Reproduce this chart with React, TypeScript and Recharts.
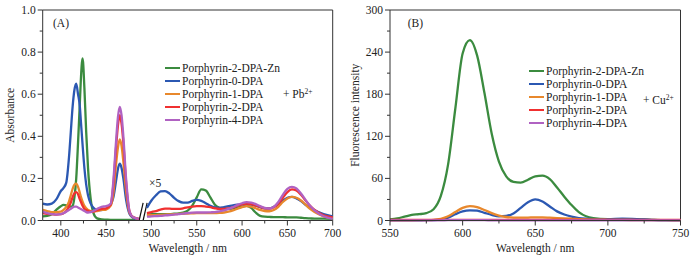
import { Legend, Line, LineChart, ReferenceLine, XAxis, YAxis } from "recharts";

const FONT = '"Liberation Serif", "Times New Roman", serif';
const AXIS = "#333";
const INK = "#222";

const seriesKeys = ["zn", "p0", "p1", "p2", "p4"];
const seriesNames = [
  "Porphyrin-2-DPA-Zn",
  "Porphyrin-0-DPA",
  "Porphyrin-1-DPA",
  "Porphyrin-2-DPA",
  "Porphyrin-4-DPA",
];
const seriesColors = ["#3b8b3f", "#2b58b2", "#e8882c", "#f03030", "#b062c2"];

// (A) absorbance, Soret band
const soretWl = [380, 385, 390, 395, 400, 403, 406, 409, 411, 413, 415, 417, 419, 421, 422, 424, 426, 428, 430, 433, 436, 440, 445, 450, 455, 458, 461, 463, 465, 467, 469, 472, 476, 480, 486];
const soretZn = [0.02, 0.022, 0.03, 0.05, 0.068, 0.074, 0.072, 0.066, 0.066, 0.07, 0.11, 0.2, 0.37, 0.56, 0.66, 0.77, 0.63, 0.42, 0.25, 0.1, 0.035, 0.01, 0.005, 0.004, 0.003, 0.003, 0.003, 0.003, 0.003, 0.003, 0.003, 0.003, 0.003, 0.003, 0.003];
const soretP0 = [0.08, 0.076, 0.08, 0.1, 0.14, 0.155, 0.18, 0.3, 0.42, 0.54, 0.62, 0.65, 0.6, 0.54, 0.48, 0.36, 0.25, 0.17, 0.12, 0.08, 0.06, 0.05, 0.05, 0.055, 0.075, 0.11, 0.19, 0.245, 0.27, 0.25, 0.2, 0.1, 0.03, 0.012, 0.005];
const soretP1 = [0.05, 0.045, 0.04, 0.04, 0.042, 0.05, 0.065, 0.09, 0.12, 0.15, 0.17, 0.175, 0.16, 0.13, 0.115, 0.09, 0.07, 0.058, 0.05, 0.045, 0.042, 0.045, 0.05, 0.052, 0.07, 0.13, 0.27, 0.345, 0.385, 0.355, 0.28, 0.14, 0.035, 0.015, 0.008];
const soretP2 = [0.035, 0.032, 0.03, 0.028, 0.03, 0.035, 0.045, 0.065, 0.085, 0.11, 0.13, 0.135, 0.125, 0.1, 0.09, 0.07, 0.055, 0.05, 0.045, 0.042, 0.042, 0.05, 0.055, 0.058, 0.075, 0.17, 0.35, 0.45, 0.5, 0.46, 0.37, 0.18, 0.04, 0.015, 0.008];
const soretP4 = [0.042, 0.035, 0.03, 0.028, 0.03, 0.035, 0.042, 0.05, 0.055, 0.062, 0.066, 0.066, 0.062, 0.057, 0.055, 0.05, 0.045, 0.04, 0.038, 0.04, 0.045, 0.055, 0.065, 0.068, 0.08, 0.19, 0.38, 0.49, 0.54, 0.5, 0.4, 0.2, 0.04, 0.015, 0.008];

// (A) absorbance, Q bands (x5)
const qWl = [495, 500, 505, 510, 515, 520, 525, 530, 535, 540, 545, 550, 555, 560, 565, 570, 575, 580, 585, 590, 595, 600, 605, 610, 615, 620, 625, 630, 635, 640, 645, 650, 655, 660, 665, 670, 675, 680, 690, 700];
const qZn = [0.028, 0.03, 0.03, 0.03, 0.03, 0.03, 0.032, 0.034, 0.038, 0.047, 0.07, 0.11, 0.148, 0.142, 0.11, 0.075, 0.06, 0.055, 0.055, 0.058, 0.062, 0.066, 0.07, 0.06, 0.038, 0.022, 0.018, 0.017, 0.016, 0.016, 0.016, 0.015, 0.015, 0.015, 0.013, 0.011, 0.01, 0.009, 0.009, 0.008];
const qP0 = [0.06, 0.095, 0.12, 0.138, 0.14, 0.128, 0.108, 0.092, 0.085, 0.085, 0.093, 0.098, 0.093, 0.082, 0.07, 0.062, 0.06, 0.064, 0.068, 0.072, 0.075, 0.077, 0.077, 0.075, 0.07, 0.063, 0.058, 0.058, 0.065, 0.078, 0.095, 0.108, 0.112, 0.105, 0.092, 0.075, 0.06, 0.048, 0.03, 0.02];
const qP1 = [0.025, 0.025, 0.026, 0.027, 0.028, 0.029, 0.03, 0.031, 0.032, 0.033, 0.034, 0.035, 0.035, 0.035, 0.035, 0.035, 0.036, 0.038, 0.042, 0.048, 0.056, 0.064, 0.068, 0.066, 0.058, 0.05, 0.045, 0.044, 0.05, 0.065, 0.088, 0.105, 0.112, 0.108, 0.095, 0.075, 0.055, 0.04, 0.02, 0.012];
const qP2 = [0.035, 0.04, 0.045, 0.052, 0.056, 0.056, 0.055, 0.055, 0.058, 0.062, 0.066, 0.068, 0.068, 0.066, 0.063, 0.058, 0.055, 0.055, 0.057, 0.062, 0.07, 0.076, 0.08, 0.078, 0.072, 0.065, 0.058, 0.056, 0.063, 0.08, 0.108, 0.135, 0.148, 0.142, 0.122, 0.095, 0.07, 0.05, 0.025, 0.015];
const qP4 = [0.018, 0.02, 0.021, 0.022, 0.024, 0.026, 0.028, 0.03, 0.033, 0.035, 0.037, 0.038, 0.038, 0.038, 0.039, 0.04, 0.043, 0.048, 0.055, 0.063, 0.074, 0.082, 0.087, 0.085, 0.078, 0.068, 0.06, 0.057, 0.065, 0.088, 0.122, 0.15, 0.16, 0.152, 0.128, 0.098, 0.07, 0.048, 0.02, 0.008];

// (B) fluorescence
const flWl = [550, 555, 560, 565, 570, 575, 580, 585, 590, 595, 600, 605, 610, 615, 620, 625, 630, 635, 640, 645, 650, 655, 660, 665, 670, 675, 680, 685, 690, 700, 710, 720, 730, 740, 750];
const flZn = [1.5, 3, 5.5, 8, 9, 10.5, 16, 35, 80, 160, 238, 257, 235, 182, 124, 84, 63, 55, 54, 58, 63, 64, 59, 47, 34, 22, 12, 6, 3.5, 2, 1.8, 1.5, 1, 0.6, 0.5];
const flP0 = [0.2, 0.2, 0.2, 0.2, 0.3, 0.4, 0.6, 1.5, 4, 9, 13, 14.5, 14, 11, 8, 6, 6.5, 10, 18, 26, 30, 27, 20, 13, 8.5, 5.5, 3.5, 2.5, 2, 2, 2.5, 2, 1, 0.5, 0.3];
const flP1 = [0.3, 0.3, 0.3, 0.3, 0.4, 0.6, 1, 2.5, 6, 12, 18, 20.5, 19, 15, 10.5, 7, 5, 4.2, 4, 4.2, 4.5, 4.5, 4, 3.5, 3, 2.5, 2, 1.6, 1.3, 1, 0.8, 0.6, 0.5, 0.4, 0.3];
const flP2 = [0.8, 0.8, 0.8, 0.8, 0.8, 0.8, 0.8, 0.8, 0.9, 0.9, 1, 1, 1, 0.9, 0.9, 0.8, 0.8, 0.8, 0.8, 0.8, 0.8, 0.8, 0.8, 0.8, 0.8, 0.8, 0.8, 0.8, 0.8, 0.8, 0.8, 0.8, 0.8, 0.8, 0.8];
const flP4 = [0.3, 0.3, 0.3, 0.3, 0.3, 0.3, 0.3, 0.3, 0.4, 0.4, 0.4, 0.4, 0.4, 0.4, 0.3, 0.3, 0.3, 0.3, 0.3, 0.3, 0.3, 0.3, 0.3, 0.3, 0.3, 0.3, 0.3, 0.3, 0.3, 0.3, 0.3, 0.3, 0.3, 0.3, 0.3];

const absXTicks = [400, 425, 450, 475, 500, 525, 550, 575, 600, 625, 650, 675, 700];
const absYTicks = [0, 0.1, 0.2, 0.3, 0.4, 0.5, 0.6, 0.7, 0.8, 0.9, 1.0];
const flXTicks = [550, 575, 600, 625, 650, 675, 700, 725, 750];
const flYTicks = [0, 30, 60, 90, 120, 150, 180, 210, 240, 270, 300];

function rows(wl: number[], cols: number[][]) {
  return wl.map((w, i) => {
    const r: any = { wl: w };
    seriesKeys.forEach((k, j) => (r[k] = cols[j][i]));
    return r;
  });
}

const gapRow: any = { wl: 490.5 };
seriesKeys.forEach((k) => (gapRow[k] = null));

const absData = [
  ...rows(soretWl, [soretZn, soretP0, soretP1, soretP2, soretP4]),
  gapRow,
  ...rows(qWl, [qZn, qP0, qP1, qP2, qP4]),
];
const flData = rows(flWl, [flZn, flP0, flP1, flP2, flP4]);

const XTick = (props: any) => {
  const { x, y, payload, isMajor } = props;
  const major = isMajor(payload.value);
  return (
    <g>
      <line x1={x} x2={x} y1={y} y2={y + (major ? 5 : 3)} stroke={AXIS} />
      {major && (
        <text x={x} y={y + 16.5} textAnchor="middle" fontSize={11.5} fontFamily={FONT} fill={INK}>
          {payload.value}
        </text>
      )}
    </g>
  );
};

const YTick = (props: any) => {
  const { x, y, payload, isMajor, format } = props;
  const major = isMajor(payload.value);
  return (
    <g>
      <line x1={x} x2={x - (major ? 5 : 3)} y1={y} y2={y} stroke={AXIS} />
      {major && (
        <text x={x - 7} y={y + 4} textAnchor="end" fontSize={11.5} fontFamily={FONT} fill={INK}>
          {format(payload.value)}
        </text>
      )}
    </g>
  );
};

const LegendBox = (props: any) => {
  const items = [...(props.payload || [])].sort(
    (a: any, b: any) => seriesNames.indexOf(a.value) - seriesNames.indexOf(b.value)
  );
  return (
    <div>
      {items.map((e: any) => (
        <div key={e.value} style={{ display: "flex", alignItems: "center", height: 13 }}>
          <span style={{ display: "inline-block", width: 15, height: 2.5, background: e.color, marginRight: 2 }} />
          <span style={{ fontSize: 11.5, fontFamily: FONT, color: INK, lineHeight: "13px", whiteSpace: "nowrap" }}>
            {e.value}
          </span>
        </div>
      ))}
    </div>
  );
};

const note = (left: number, center: number, content: any) => (
  <div
    style={{
      position: "absolute",
      left,
      top: center - 7,
      height: 14,
      lineHeight: "14px",
      fontSize: 11.5,
      fontFamily: FONT,
      color: INK,
      whiteSpace: "nowrap",
    }}
  >
    {content}
  </div>
);

const sup = (s: string) => (
  <span style={{ fontSize: 7.5, position: "relative", top: -4 }}>{s}</span>
);

const series = () =>
  seriesKeys.map((k, i) => (
    <Line
      key={k}
      type="monotone"
      dataKey={k}
      name={seriesNames[i]}
      stroke={seriesColors[i]}
      strokeWidth={2.3}
      dot={false}
      activeDot={false}
      connectNulls={false}
      isAnimationActive={false}
    />
  ));

export default function App() {
  return (
    <div style={{ position: "absolute", left: 0, top: 0, width: 699, height: 260, background: "#fff" }}>
      <div style={{ position: "absolute", left: 0, top: 0 }}>
        <LineChart width={345} height={260} data={absData} margin={{ top: 10, right: 12.3, bottom: 0, left: 0 }}>
          <XAxis
            dataKey="wl"
            type="number"
            domain={[380, 700]}
            ticks={absXTicks}
            interval={0}
            tick={<XTick isMajor={(v: number) => v % 50 === 0} />}
            tickSize={0}
            tickMargin={0}
            tickLine={false}
            axisLine={{ stroke: AXIS }}
            height={39.5}
            label={{ value: "Wavelength / nm", position: "insideBottom", offset: 8, fill: INK, fontSize: 11.5, fontFamily: FONT }}
          />
          <YAxis
            type="number"
            domain={[0, 1]}
            ticks={absYTicks}
            interval={0}
            tick={<YTick isMajor={(v: number) => Math.round(v * 10) % 2 === 0} format={(v: number) => v.toFixed(1)} />}
            tickSize={0}
            tickMargin={0}
            tickLine={false}
            axisLine={{ stroke: AXIS }}
            width={42.7}
            label={{ value: "Absorbance", angle: -90, position: "insideLeft", offset: 10, style: { textAnchor: "middle", fontSize: 11.5, fontFamily: FONT, fill: INK } }}
          />
          <ReferenceLine y={1} stroke={AXIS} />
          <ReferenceLine x={700} stroke={AXIS} />
          <ReferenceLine segment={[{ x: 486.4, y: 0 }, { x: 490.8, y: 0.084 }]} stroke="#111" strokeWidth={1.2} />
          <ReferenceLine segment={[{ x: 490.8, y: 0 }, { x: 495.2, y: 0.084 }]} stroke="#111" strokeWidth={1.2} />
          {series()}
          <Legend layout="vertical" align="center" verticalAlign="middle" wrapperStyle={{ left: 165, top: 61.5, width: "auto" }} content={<LegendBox />} />
        </LineChart>
        {note(53, 22.7, "(A)")}
        {note(283, 94, <>+ Pb{sup("2+")}</>)}
        {note(149, 183, "×5")}
      </div>
      <div style={{ position: "absolute", left: 349, top: 0, width: 350, height: 260 }}>
        <LineChart width={350} height={260} data={flData} margin={{ top: 10, right: 18.5, bottom: 0, left: 0 }}>
          <XAxis
            dataKey="wl"
            type="number"
            domain={[550, 750]}
            ticks={flXTicks}
            interval={0}
            tick={<XTick isMajor={(v: number) => v % 50 === 0} />}
            tickSize={0}
            tickMargin={0}
            tickLine={false}
            axisLine={{ stroke: AXIS }}
            height={39.5}
            label={{ value: "Wavelength / nm", position: "insideBottom", offset: 8, fill: INK, fontSize: 11.5, fontFamily: FONT }}
          />
          <YAxis
            type="number"
            domain={[0, 300]}
            ticks={flYTicks}
            interval={0}
            tick={<YTick isMajor={(v: number) => v % 60 === 0} format={(v: number) => String(v)} />}
            tickSize={0}
            tickMargin={0}
            tickLine={false}
            axisLine={{ stroke: AXIS }}
            width={41}
            label={{ value: "Fluorescence intensity", angle: -90, position: "insideLeft", offset: 6, style: { textAnchor: "middle", fontSize: 11.5, fontFamily: FONT, fill: INK } }}
          />
          <ReferenceLine y={300} stroke={AXIS} />
          <ReferenceLine x={750} stroke={AXIS} />
          {series()}
          <Legend layout="vertical" align="center" verticalAlign="middle" wrapperStyle={{ left: 180, top: 64.5, width: "auto" }} content={<LegendBox />} />
        </LineChart>
        {note(58.7, 22.7, "(B)")}
        {note(294, 100, <>+ Cu{sup("2+")}</>)}
      </div>
    </div>
  );
}
